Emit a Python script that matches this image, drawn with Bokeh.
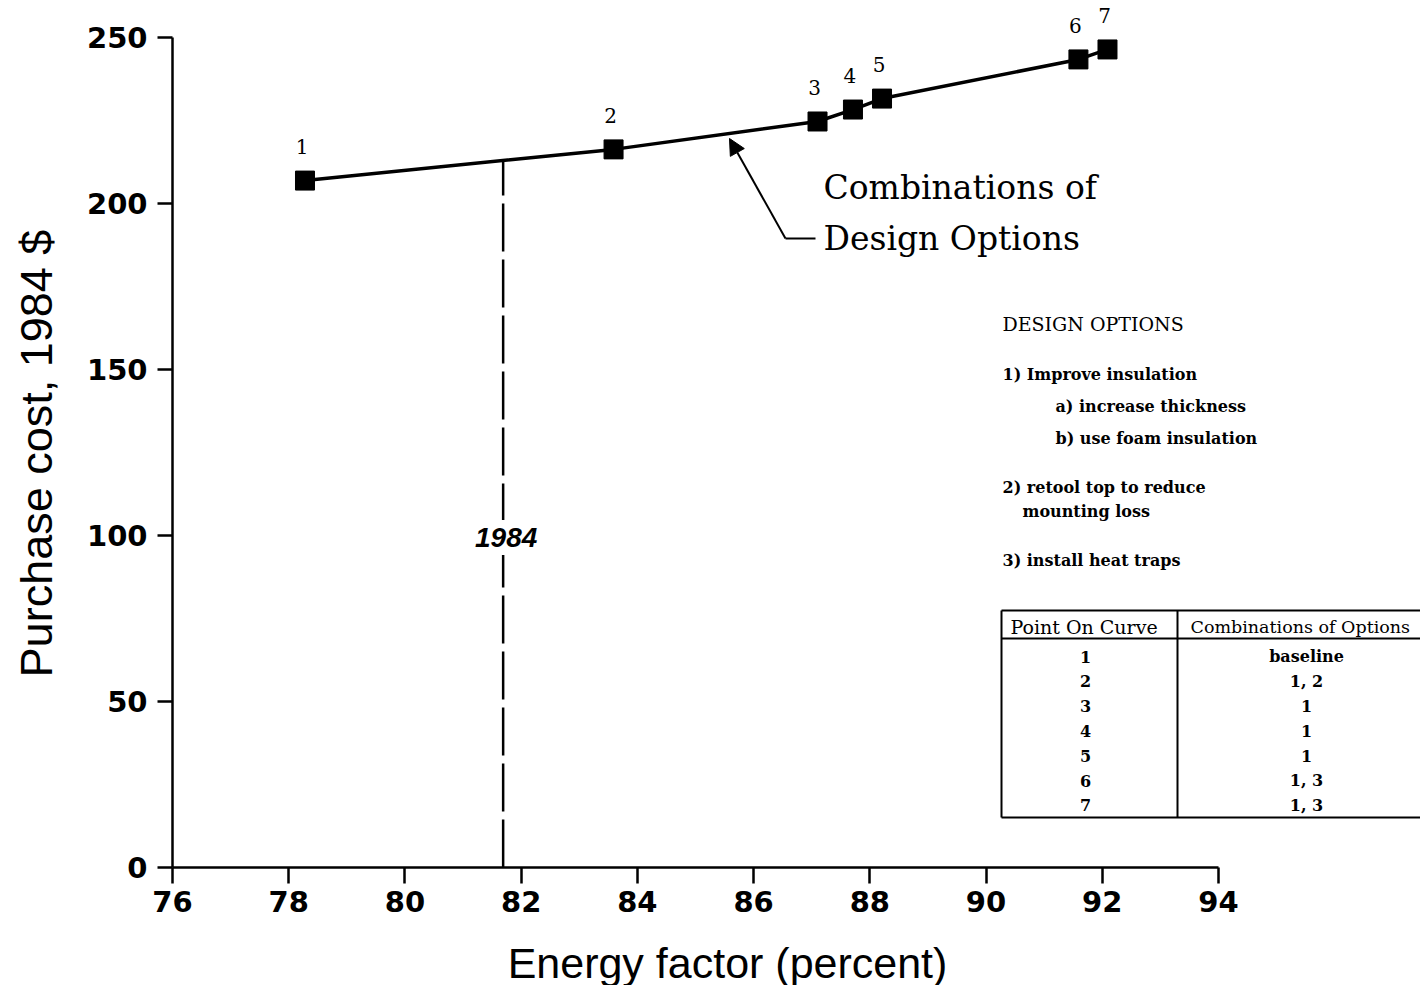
import math
import numpy as np
from bokeh.plotting import figure
from bokeh.models import ColumnDataSource, Label, Arrow, NormalHead, Range1d
from bokeh.core.properties import value
from bokeh.embed import file_html
from bokeh.resources import INLINE

# ---------------- data ----------------
energy_factor = [78.28, 83.59, 87.10, 87.71, 88.21, 91.59, 92.09]
purchase_cost = [206.9, 216.3, 224.7, 228.3, 231.6, 243.4, 246.4]
point_labels = ["1", "2", "3", "4", "5", "6", "7"]
option_combos = ["baseline", "1, 2", "1", "1", "1", "1, 3", "1, 3"]
x_ticks = [76, 78, 80, 82, 84, 86, 88, 90, 92, 94]
y_ticks = [0, 50, 100, 150, 200, 250]
ef_1984 = 81.69
design_option_lines = [
    ("1) Improve insulation", 0),
    ("a) increase thickness", 1),
    ("b) use foam insulation", 1),
    ("2) retool top to reduce", 0),
    ("mounting loss", 2),
    ("3) install heat traps", 0),
]

# ------------- layout helpers (pixel -> data) -------------
W, H = 1420, 985
X0_PX, X_SCALE = 172.0, 58.11
Y0_PX, Y_SCALE = 867.0, 3.32


def dx(px):
    return 76 + (px - X0_PX) / X_SCALE


def dy(py):
    return (Y0_PX - py) / Y_SCALE


SERIF = value("DejaVu Serif")

p = figure(width=W, height=H,
           x_range=Range1d(dx(0), dx(W)), y_range=Range1d(dy(H), dy(0)),
           output_backend="svg", toolbar_location=None, min_border=0)
p.outline_line_color = None
p.grid.visible = False
p.background_fill_color = "white"
p.border_fill_color = "white"

p.xaxis.fixed_location = 0
p.yaxis.fixed_location = 76
for ax, ticks, bnd, tout in ((p.xaxis, x_ticks, (76, 94), 16), (p.yaxis, y_ticks, (0, 250), 15)):
    ax.ticker = ticks
    ax.bounds = bnd
    ax.axis_line_width = 2.5
    ax.axis_line_color = "black"
    ax.major_tick_line_width = 2.5
    ax.major_tick_line_color = "black"
    ax.major_tick_out = tout
    ax.major_tick_in = 0
    ax.minor_tick_out = 0
    ax.minor_tick_in = 0
    ax.major_label_text_font = "DejaVu Sans"
    ax.major_label_text_font_style = "bold"
    ax.major_label_text_font_size = "29px"
    ax.major_label_text_color = "black"
p.xaxis.major_label_standoff = 7
p.yaxis.major_label_standoff = 10

# axis titles
p.add_layout(Label(x=dx(727), y=dy(962), text="Energy factor (percent)",
                   text_font="Liberation Sans", text_font_size="43px",
                   text_align="center", text_baseline="middle", text_color="black"))
p.add_layout(Label(x=dx(36), y=dy(453), text="Purchase cost, 1984 $", angle=math.pi / 2,
                   text_font="Liberation Sans", text_font_size="45px",
                   text_align="center", text_baseline="middle", text_color="black"))

# 1984 dashed line
cost_1984 = float(np.interp(ef_1984, energy_factor, purchase_cost))
p.line([ef_1984, ef_1984], [0, cost_1984], line_color="black", line_width=2.5, line_dash="48 8")
p.add_layout(Label(x=ef_1984, y=dy(537), x_offset=3, text="1984", text_font="Liberation Sans",
                   text_font_style="bold italic", text_font_size="28px",
                   text_align="center", text_baseline="middle", text_color="black",
                   background_fill_color="white", padding=8))

# curve
src = ColumnDataSource(dict(x=energy_factor, y=purchase_cost, lab=point_labels))
p.line("x", "y", source=src, line_color="black", line_width=3.5)
p.scatter("x", "y", source=src, marker="square", size=19, fill_color="black", line_color="black")
p.text("x", "y", text="lab", source=src, text_font=SERIF, text_font_size="20px",
       text_align="center", text_baseline="middle", y_offset=-34, x_offset=-3, text_color="black")

# arrow annotation
p.add_layout(Arrow(end=NormalHead(size=16, fill_color="black", line_color="black"),
                   x_start=dx(785), y_start=dy(238), x_end=dx(729), y_end=dy(138),
                   line_color="black", line_width=2))
p.line([dx(785), dx(815)], [dy(238), dy(238)], line_color="black", line_width=2)
p.text([dx(823), dx(823)], [dy(187), dy(238)], text=["Combinations of", "Design Options"],
       text_font=SERIF, text_font_size="33px", text_align="left", text_baseline="middle",
       text_color="black")

# design options block
p.text([dx(1002)], [dy(323)], text=["DESIGN OPTIONS"], text_font=SERIF, text_font_size="19px",
       text_align="left", text_baseline="middle", text_color="black")
opt_y = [374, 406, 438, 487, 511, 560]
opt_x = {0: 1002, 1: 1055, 2: 1022}
p.text([dx(opt_x[ind]) for _, ind in design_option_lines], [dy(py) for py in opt_y],
       text=[t for t, _ in design_option_lines], text_font=SERIF, text_font_style="bold",
       text_font_size="16px", text_align="left", text_baseline="middle", text_color="black")

# table
tl, tm, tr = dx(1001), dx(1177), dx(1440)
tt, th, tb = dy(610), dy(638), dy(817)
p.multi_line([[tl, tr], [tl, tr], [tl, tr], [tl, tl], [tm, tm]],
             [[tt, tt], [th, th], [tb, tb], [tt, tb], [tt, tb]],
             line_color="black", line_width=2)
p.text([dx(1010)], [dy(626)], text=["Point On Curve"],
       text_font=SERIF, text_font_size="19px", text_align="left", text_baseline="middle",
       text_color="black")
p.text([dx(1190)], [dy(626)], text=["Combinations of Options"],
       text_font=SERIF, text_font_size="17.5px", text_align="left", text_baseline="middle",
       text_color="black")
row_y = [dy(656 + 24.8 * i) for i in range(len(point_labels))]
p.text([dx(1085)] * len(point_labels), row_y, text=point_labels, text_font=SERIF,
       text_font_style="bold", text_font_size="16px", text_align="center",
       text_baseline="middle", text_color="black")
p.text([dx(1306)] * len(option_combos), row_y, text=option_combos, text_font=SERIF,
       text_font_style="bold", text_font_size="16px", text_align="center",
       text_baseline="middle", text_color="black")

open("out.html", "w").write(file_html(p, INLINE))
